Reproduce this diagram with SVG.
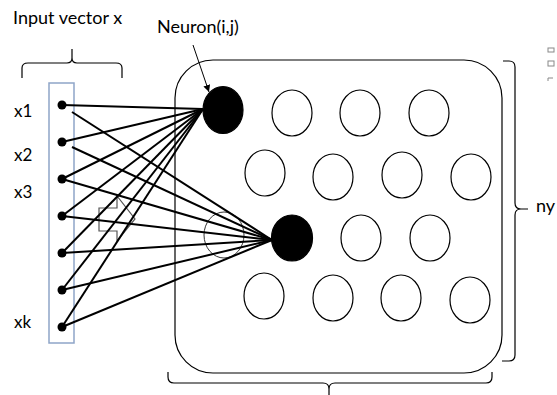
<svg xmlns="http://www.w3.org/2000/svg" width="557" height="395" viewBox="0 0 557 395">
<style>
  text { font-family: Lato, "Open Sans", "Liberation Sans", sans-serif; fill: #000; }
  .lbl { font-size: 18px; }
  .in { font-size: 17px; }
  .empty { fill: #fff; stroke: #000; stroke-width: 1.2; }
  .full { fill: #000; stroke: #000; stroke-width: 1.2; }
  .brace { fill: none; stroke: #000; stroke-width: 1.2; }
  .conn line { stroke: #000; stroke-width: 2; }
  .dot { fill: #000; }
</style>
<defs>
  <marker id="ah" viewBox="0 0 10 10" refX="10" refY="5" markerWidth="7" markerHeight="7" orient="auto-start-reverse" markerUnits="userSpaceOnUse">
    <path d="M0,0 L10,5 L0,10 z" fill="#000"/>
  </marker>
</defs>
<rect width="557" height="395" fill="#fff"/>

<g id="labels">
  <text class="lbl" x="13" y="24">Input vector x</text>
  <text class="lbl" x="157" y="33">Neuron(i,j)</text>
  <text class="in" x="14" y="117">x1</text>
  <text class="in" x="14" y="161">x2</text>
  <text class="in" x="14" y="198">x3</text>
  <text class="in" x="14" y="328">xk</text>
  <text class="lbl" x="536" y="212">ny</text>
</g>

<g id="braces">
  <path class="brace" d="M22,78 L22,68 Q22,63 28,63 L67,63 Q72,63 72,58 L72,49 M72,58 Q72,63 77,63 L116,63 Q122,63 122,68 L122,78"/>
  <path class="brace" d="M503,61 L509,61 Q515,61 515,67 L515,203 Q515,209 521,209 L528,209 M521,209 Q515,209 515,215 L515,355 Q515,361 509,361 L502,361"/>
  <path class="brace" d="M168,372 L168,377 Q168,383 174,383 L323,383 Q329,383 329,389 L329,395 M329,389 Q329,383 335,383 L486,383 Q492,383 492,377 L492,372"/>
</g>

<g id="grid">
  <rect x="175" y="60" width="327" height="313" rx="38" ry="38" fill="none" stroke="#000" stroke-width="1.2"/>
</g>

<g id="input-box">
  <rect x="49" y="83" width="25" height="260" fill="none" stroke="#8EA5C8" stroke-width="1.5"/>
</g>

<g id="ghost-circle">
  <ellipse cx="224" cy="235" rx="20" ry="23" fill="none" stroke="#333" stroke-width="1"/>
</g>

<g id="block-arrow">
  <polygon points="99,208 117,208 117,196 135,219 117,241 117,231 99,231" fill="none" stroke="#555" stroke-width="1.2"/>
</g>

<g class="conn" id="connectors">
  <line x1="62" y1="105" x2="203" y2="109"/>
  <line x1="62" y1="142" x2="203" y2="109"/>
  <line x1="62" y1="179" x2="203" y2="109"/>
  <line x1="62" y1="216" x2="203" y2="109"/>
  <line x1="62" y1="253" x2="203" y2="109"/>
  <line x1="62" y1="290" x2="203" y2="109"/>
  <line x1="62" y1="327" x2="203" y2="109"/>
  <line x1="72" y1="112" x2="272" y2="240"/>
  <line x1="72" y1="147" x2="272" y2="240"/>
  <line x1="62" y1="179" x2="272" y2="240"/>
  <line x1="62" y1="216" x2="272" y2="240"/>
  <line x1="62" y1="253" x2="272" y2="240"/>
  <line x1="62" y1="290" x2="272" y2="240"/>
  <line x1="62" y1="327" x2="272" y2="240"/>
  <path d="M193,45 L209,92" fill="none" stroke="#000" stroke-width="1" marker-end="url(#ah)"/>
</g>

<g id="inputs">
  <circle class="dot" cx="62" cy="105" r="4.5"/>
  <circle class="dot" cx="62" cy="142" r="4.5"/>
  <circle class="dot" cx="62" cy="179" r="4.5"/>
  <circle class="dot" cx="62" cy="216" r="4.5"/>
  <circle class="dot" cx="62" cy="253" r="4.5"/>
  <circle class="dot" cx="62" cy="290" r="4.5"/>
  <circle class="dot" cx="62" cy="327" r="4.5"/>
</g>

<g id="neuron-ij"><ellipse class="full" cx="223" cy="110" rx="20" ry="23.5"/></g>
<g id="n-1-2"><ellipse class="empty" cx="292" cy="113" rx="20" ry="23"/></g>
<g id="n-1-3"><ellipse class="empty" cx="360" cy="113" rx="20" ry="23"/></g>
<g id="n-1-4"><ellipse class="empty" cx="429" cy="113" rx="20" ry="23"/></g>
<g id="n-2-1"><ellipse class="empty" cx="265" cy="173" rx="20" ry="23"/></g>
<g id="n-2-2"><ellipse class="empty" cx="333" cy="177" rx="20" ry="23"/></g>
<g id="n-2-3"><ellipse class="empty" cx="402" cy="175" rx="20" ry="23"/></g>
<g id="n-2-4"><ellipse class="empty" cx="471" cy="177" rx="20" ry="23"/></g>
<g id="n-3-2"><ellipse class="full" cx="292" cy="238" rx="20.5" ry="23"/></g>
<g id="n-3-3"><ellipse class="empty" cx="361" cy="238" rx="20" ry="23"/></g>
<g id="n-3-4"><ellipse class="empty" cx="430" cy="238" rx="20" ry="23"/></g>
<g id="n-4-1"><ellipse class="empty" cx="264" cy="296" rx="20" ry="23"/></g>
<g id="n-4-2"><ellipse class="empty" cx="333" cy="298" rx="20" ry="23"/></g>
<g id="n-4-3"><ellipse class="empty" cx="401" cy="298" rx="20" ry="23"/></g>
<g id="n-4-4"><ellipse class="empty" cx="470" cy="300" rx="20" ry="23"/></g>

<g id="marks" fill="none" stroke="#888" stroke-width="1">
  <rect x="548" y="48" width="6" height="4"/>
  <rect x="548" y="61" width="6" height="5"/>
  <path d="M548,81 L548,78 L553,78"/>
</g>
</svg>
